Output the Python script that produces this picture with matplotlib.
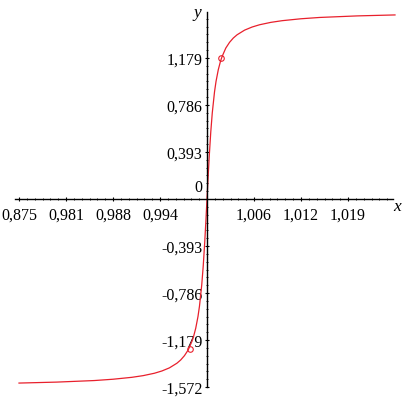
import matplotlib.pyplot as plt

# curve points
x_vals = [0.975, 0.98, 0.985, 0.9875, 0.99, 0.9915, 0.993, 0.994, 0.995, 0.996,
          0.9965, 0.997, 0.9975, 0.998, 0.9982, 0.9985, 0.9988, 0.999, 0.9993, 0.9995,
          0.9997, 0.99985, 1.0, 1.00015, 1.0003, 1.0005, 1.0007, 1.001, 1.0012, 1.0015,
          1.0018, 1.002, 1.0025, 1.003, 1.0035, 1.004, 1.005, 1.006, 1.007, 1.0085,
          1.01, 1.0125, 1.015, 1.02, 1.025]
y_vals = [-1.539, -1.531, -1.518, -1.507, -1.491, -1.477, -1.457, -1.438, -1.412, -1.373,
          -1.346, -1.310, -1.262, -1.190, -1.153, -1.081, -0.983, -0.896, -0.719, -0.559,
          -0.359, -0.186, 0.0, 0.186, 0.359, 0.559, 0.719, 0.896, 0.983, 1.081,
          1.153, 1.190, 1.262, 1.310, 1.346, 1.373, 1.412, 1.438, 1.457, 1.477,
          1.491, 1.507, 1.518, 1.531, 1.539]

marker_x = [0.9977, 1.0019]
marker_y = [-1.25, 1.175]

x_ticks = [0.975, 0.98125, 0.9875, 0.99375, 1.00625, 1.0125, 1.01875]
x_labels = ['0,875', '0,981', '0,988', '0,994', '1,006', '1,012', '1,019']
y_ticks = [-1.572, -1.179, -0.786, -0.393, 0.393, 0.786, 1.179]
y_labels = ['-1,572', '-1,179', '-0,786', '-0,393', '0,393', '0,786', '1,179']

plt.rcParams['font.family'] = ['Liberation Serif', 'DejaVu Serif']

fig = plt.figure(figsize=(4.08, 4.02), dpi=100)
ax = fig.add_axes([0, 0, 1, 1])

# pixel mapping: x=1 at px 207, 7520 px per unit; y=0 at px 200, 119.6 px per unit
ax.set_xlim(1 - 207 / 7520, 1 + 201 / 7520)
ax.set_ylim(-202 / 119.6, 200 / 119.6)

red = '#e8202c'
ax.plot(x_vals, y_vals, color=red, lw=0.9)
ax.plot(marker_x, marker_y, 'o', ms=4, mfc='none', mec=red, mew=0.8)

for s in ['top', 'right']:
    ax.spines[s].set_visible(False)
ax.spines['bottom'].set_position(('data', 0))
ax.spines['left'].set_position(('data', 1))
ax.spines['bottom'].set_bounds(0.9745, 1.0247)
ax.spines['left'].set_bounds(-1.572, 1.56)
ax.spines['bottom'].set_linewidth(1.0)
ax.spines['left'].set_linewidth(1.0)

ax.set_xticks(x_ticks)
ax.set_xticklabels(x_labels)
ax.set_yticks(y_ticks)
ax.set_yticklabels(y_labels)

minor_x = [0.975 + i * 0.00625 / 6 for i in range(0, 48) if i % 6 != 0]
minor_y = [-1.572 + i * 0.393 / 6 for i in range(0, 48) if i % 6 != 0]
ax.set_xticks(minor_x, minor=True)
ax.set_yticks(minor_y, minor=True)

ax.tick_params(axis='both', which='major', length=3.5, width=0.8, direction='inout',
               labelsize=11.5, pad=1.5)
ax.tick_params(axis='both', which='minor', length=2, width=0.6, direction='inout')
ax.tick_params(axis='x', pad=3.5)

ax.text(0.99935, 0.03, '0', fontsize=11.5, ha='right', va='bottom')
ax.text(1.0247, -0.06, 'x', fontsize=12.5, style='italic', ha='left', va='center')
ax.text(0.9992, 1.5, 'y', fontsize=12.5, style='italic', ha='right', va='bottom')

fig.savefig('out.png', dpi=100)
